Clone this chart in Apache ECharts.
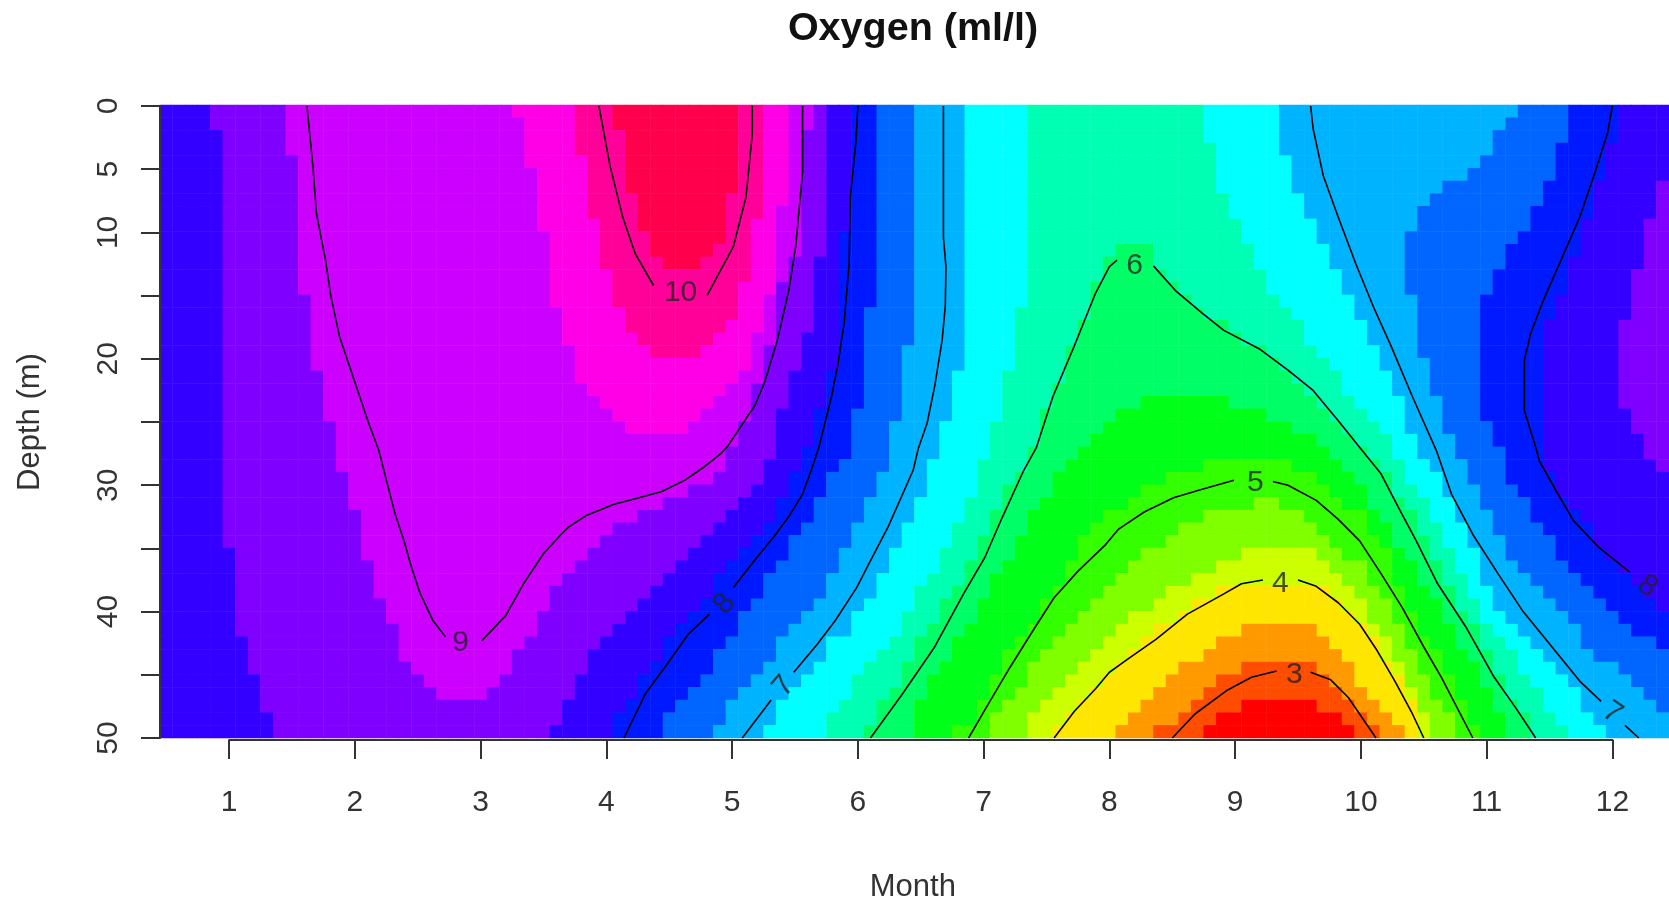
<!DOCTYPE html>
<html>
<head>
<meta charset="utf-8">
<script src="https://cdn.jsdelivr.net/npm/echarts@6/dist/echarts.min.js"></script>
<style>
html,body{margin:0;padding:0;background:#fff;overflow:hidden}
#chart{width:1669px;height:899px;filter:blur(0.55px)}
</style>
</head>
<body>
<div id="chart"></div>
<script>
// ---------- axes ----------
const monthTicks = [1,2,3,4,5,6,7,8,9,10,11,12];
const depthLabelled = [0,5,10,20,30,40,50];
const rowDepths = Array.from({length:50},(_,i)=>i);      // 1 m rows
const colMonths = Array.from({length:120},(_,i)=>(5+i)/10); // 0.1 month columns

// ---------- oxygen classes (ml/l) and rainbow colours ----------
const oxygenBreaks = [2.38,2.79,3.20,3.62,4.03,4.44,4.85,5.26,5.68,6.09,6.50,6.91,7.32,7.74,8.15,8.56,8.97,9.38,9.80,10.21,10.62];
const classColors = ['#FF0000','#FF4D00','#FF9900','#FFE600','#CCFF00','#80FF00','#33FF00','#00FF19','#00FF66','#00FFB3','#00FFFF','#00B3FF','#0066FF','#0019FF','#3300FF','#8000FF','#CC00FF','#FF00E6','#FF0099','#FF004D'];

// ---------- class boundaries: [from depth, month, ...]; null = class absent ----------
const startClass = 14;
const e01=[0,.85,2,.95,35,1.05,42,1.15,45,1.25,48,1.35];
const e02=[0,1.45,4,1.55,15,1.65,21,1.75,25,1.85,29,1.95,32,2.05,36,2.15,39,2.25,41,2.35,44,2.45,45,2.55,46,2.65,47,null];
const e03=[0,3.25,1,3.35,5,3.45,10,3.55,16,3.65,19,3.75,22,3.85,23,3.95,24,4.05,25,4.15,26,null];
const e04=[0,3.75,4,3.85,9,3.95,13,4.05,16,4.15,18,4.25,19,4.35,20,null];
const e05=[0,4.05,2,4.15,7,4.25,10,4.35,12,4.45,13,null];
const e06=[0,5.05,7,4.95,11,4.85,12,4.75,13,null];
const e07=[0,5.25,9,5.15,14,5.05,17,4.95,18,4.85,19,4.75,20,null];
const e08=[0,5.45,8,5.35,15,5.25,18,5.15,21,5.05,22,4.95,23,4.85,24,4.75,25,4.65,26,null];
const e09=[0,5.65,2,5.55,12,5.45,14,5.35,19,5.25,22,5.15,25,5.05,27,4.95,29,4.85,30,4.65,31,4.45,32,4.25,33,4.05,34,3.95,35,3.85,36,3.75,37,3.65,38,3.55,40,3.45,42,3.35,43,3.25,45,3.15,46,3.05,47,null];
const e10=[0,5.75,12,5.65,18,5.55,21,5.45,24,5.35,28,5.25,30,5.15,31,5.05,32,4.95,33,4.85,34,4.75,35,4.65,36,4.55,37,4.45,38,4.35,39,4.25,40,4.15,41,4.05,42,3.95,43,3.85,45,3.75,47,3.65,49,3.55];
const e11=[0,5.95,10,5.85,21,5.75,24,5.65,27,5.55,29,5.45,31,5.35,33,5.25,34,5.15,35,5.05,36,4.95,37,4.85,39,4.75,40,4.65,41,4.55,42,4.45,44,4.35,45,4.25,47,4.15,48,4.05];
const e12=[0,6.15,16,6.05,24,5.95,28,5.85,29,5.75,31,5.65,33,5.55,34,5.45,36,5.35,37,5.25,39,5.15,40,5.05,42,4.95,43,4.85,45,4.75,46,4.65,47,4.55,48,4.45];
const e13=[0,6.45,19,6.35,25,6.25,29,6.15,31,6.05,33,5.95,35,5.85,37,5.75,39,5.65,40,5.55,41,5.45,42,5.35,44,5.25,45,5.15,46,5.05,47,4.95,49,4.85];
const e14=[0,6.85,21,6.75,25,6.65,28,6.55,31,6.45,33,6.35,35,6.25,37,6.15,39,6.05,40,5.95,42,5.75,44,5.65,45,5.55,46,5.45,47,5.35,49,5.25];
const e15=[0,7.35,16,7.25,21,7.15,25,7.05,28,6.95,31,6.85,33,6.75,35,6.65,37,6.55,38,6.45,40,6.35,42,6.25,43,6.15,44,6.05,45,5.95,47,5.85,48,5.75];
const e16=[0,null,11,8.05,12,7.95,14,7.85,17,7.75,19,7.65,22,7.55,24,7.45,27,7.35,29,7.25,30,7.15,32,7.05,34,6.95,36,6.85,38,6.75,39,6.65,41,6.55,42,6.45,44,6.35,46,6.25,47,6.15,49,6.05];
const e17=[0,null,23,8.25,24,8.05,25,7.95,26,7.85,27,7.75,28,7.65,29,7.55,31,7.45,32,7.35,34,7.25,36,7.15,37,7.05,39,6.95,41,6.85,42,6.75,44,6.65,45,6.55,47,6.45];
const e18=[0,null,28,8.75,29,8.45,30,8.25,31,8.15,32,7.95,33,7.85,34,7.75,36,7.65,38,7.55,39,7.45,41,7.35,42,7.25,43,7.15,45,7.05,47,6.95,49,6.75];
const e19=[0,null,31,9.15,32,8.75,33,8.55,34,8.45,35,8.25,36,8.15,37,8.05,38,7.95,39,7.85,40,7.75,41,7.65,42,7.55,43,7.45,44,7.35,46,7.25,47,7.15,48,7.05];
const e20=[0,null,35,9.05,36,8.85,37,8.65,38,8.45,39,8.35,40,8.15,41,8.05,42,7.95,43,7.85,44,7.75,45,7.65,46,7.55,47,7.45,48,7.35];
const e21=[0,null,38,8.85,39,8.65,40,8.55,41,8.35,42,8.25,43,8.15,44,8.05,45,7.95,46,7.85,47,7.75,48,7.65,49,7.55];
const e22=[0,null,41,9.05,42,8.85,43,8.75,44,8.55,45,8.45,46,8.35,47,8.25,48,8.15,49,8.05];
const e23=[0,null,44,9.05,45,8.85,46,8.75,47,8.65,48,8.55,49,8.35];
const e24=[0,null,47,9.05,48,8.85,49,8.75];
const e25=[0,null,47,9.65,48,9.85,49,9.95];
const e26=[0,null,44,9.65,45,9.75,46,9.85,47,9.95,48,10.05,49,10.15];
const e27=[0,null,41,9.65,42,9.75,43,9.85,44,9.95,46,10.05,47,10.15,48,10.25,49,10.35];
const e28=[0,null,38,9.75,39,9.85,40,9.95,41,10.05,42,10.15,44,10.25,45,10.35,47,10.45];
const e29=[0,null,35,9.65,36,9.75,37,9.85,38,9.95,39,10.05,41,10.15,42,10.25,44,10.35,46,10.45,48,10.55];
const e30=[0,null,31,9.35,32,9.55,33,9.65,34,9.75,35,9.85,36,10.05,38,10.15,39,10.25,41,10.35,43,10.45,45,10.55,47,10.65,48,10.75];
const e31=[0,null,28,9.45,29,9.65,30,9.75,31,9.85,32,10.05,34,10.15,35,10.25,38,10.35,40,10.45,42,10.55,43,10.65,45,10.75,47,10.85,49,10.95];
const e32=[0,null,23,8.95,24,9.25,25,9.45,26,9.65,27,9.75,28,9.85,29,9.95,30,10.05,32,10.15,33,10.25,35,10.35,36,10.45,38,10.55,39,10.65,41,10.75,43,10.85,44,10.95,46,11.05,48,11.15];
const e33=[0,null,11,8.35,13,8.45,14,8.55,15,8.65,16,8.75,17,8.95,18,9.05,19,9.25,20,9.35,21,9.45,22,9.55,23,9.65,24,9.75,25,9.85,26,9.95,27,10.05,28,10.15,29,10.25,31,10.35,32,10.45,34,10.55,36,10.65,38,10.75,40,10.85,41,10.95,43,11.05,45,11.15,47,11.25,48,11.35];
const e34=[0,8.75,3,8.85,7,8.95,9,9.05,11,9.15,13,9.25,15,9.35,16,9.45,17,9.55,19,9.65,20,9.75,21,9.85,23,9.95,24,10.05,25,10.15,26,10.25,28,10.35,30,10.45,31,10.55,33,10.65,35,10.75,37,10.85,39,10.95,41,11.05,42,11.15,43,11.25,45,11.35,46,11.45,48,11.55,49,11.65];
const e35=[0,9.35,4,9.45,7,9.55,9,9.65,11,9.75,13,9.85,15,9.95,17,10.05,19,10.15,21,10.25,23,10.35,26,10.45,28,10.55,29,10.65,31,10.75,33,10.85,35,10.95,38,11.05,40,11.15,41,11.25,42,11.35,43,11.45,44,11.55,45,11.65,46,11.75,48,11.85,49,11.95];
const e36=[0,11.25,1,11.15,2,11.05,4,10.95,5,10.85,6,10.65,7,10.55,8,10.45,10,10.35,15,10.45,20,10.55,23,10.65,26,10.75,28,10.85,30,10.95,32,11.05,34,11.15,36,11.25,37,11.35,38,11.45,39,11.55,40,11.65,41,11.75,43,11.85,44,12.05,45,12.15,46,12.25,47,12.35,48,null];
const e37=[0,11.65,3,11.55,6,11.45,8,11.35,10,11.25,11,11.15,13,11.05,15,10.95,25,11.05,27,11.15,30,11.25,31,11.35,33,11.45,34,11.55,36,11.65,37,11.75,38,11.85,39,11.95,40,12.05,41,12.15,42,12.35,43,null];
const e38=[0,12.05,3,11.95,6,11.85,9,11.75,12,11.65,15,11.55,17,11.45,29,11.55,31,11.65,32,11.75,33,11.85,35,11.95,36,12.05,37,12.15,38,12.25,39,12.35,40,null];
const e39=[0,null,6,12.35,9,12.25,13,12.15,17,12.05,24,12.15,26,12.25,28,12.35,29,null];
// class entered when each boundary is crossed going right
const boundaries=[[15,e01],[16,e02],[17,e03],[18,e04],[19,e05],[18,e06],[17,e07],[16,e08],[15,e09],[14,e10],[13,e11],[12,e12],[11,e13],[10,e14],[9,e15],[8,e16],[7,e17],[6,e18],[5,e19],[4,e20],[3,e21],[2,e22],[1,e23],[0,e24],[1,e25],[2,e26],[3,e27],[4,e28],[5,e29],[6,e30],[7,e31],[8,e32],[9,e33],[10,e34],[11,e35],[12,e36],[13,e37],[14,e38],[15,e39]];

// ---------- contour lines: [month, depth] ----------
const c9a=[[1.62,0],[1.624,.58],[1.666,4.8],[1.694,8.5],[1.766,12.2],[1.808,15],[1.879,18.3],[1.978,21.2],[2.106,25],[2.19,27.26],[2.25,29.6],[2.32,32.3],[2.39,34.4],[2.45,36.5],[2.52,38.6],[2.62,40.7],[2.72,42]];
const c9b=[[3.01,42.3],[3.2,40.3],[3.34,37.8],[3.5,35.4],[3.63,34],[3.70,33.3],[3.84,32.4],[4.06,31.5],[4.26,31],[4.44,30.5],[4.625,29.6],[4.77,28.6],[4.91,27.5],[4.965,26.9],[5.18,23.7],[5.26,21.8],[5.36,18.5],[5.45,14.6],[5.505,11.1],[5.56,5.2],[5.56,0]];
const c10a=[[3.94,0],[4.03,4.8],[4.13,8.8],[4.23,11.7],[4.375,14.2]];
const c10b=[[4.80,15],[5.01,11.1],[5.11,7.2],[5.16,2.2],[5.16,0]];
const c8a=[[6.0,0],[5.985,2.7],[5.94,7.2],[5.93,12.5],[5.89,17.2],[5.84,20.5],[5.79,23],[5.69,27],[5.63,28.8],[5.56,30.7],[5.45,32.5],[5.33,34.1],[5.19,35.8],[5.01,38.1]];
const c8b=[[4.82,40.2],[4.65,41.8],[4.48,44.2],[4.31,46.5],[4.14,50]];
const c7a=[[6.68,0],[6.68,10.4],[6.70,12.7],[6.695,15.8],[6.67,18.5],[6.61,22.2],[6.55,25.1],[6.48,27.1],[6.44,28.8],[6.356,30.7],[6.24,33.3],[6.13,35.4],[5.99,38.1],[5.82,40.7],[5.675,42.6],[5.49,44.8]];
const c7b=[[5.31,47],[5.08,50]];
const c6a=[[6.10,50],[6.355,46.5],[6.61,42.8],[6.84,38.6],[7.01,35.7],[7.15,32.5],[7.32,28.8],[7.42,27],[7.55,23],[7.72,19],[7.89,14.8],[8.0,12.7],[8.06,12.2]];
const c6b=[[8.35,12.65],[8.525,14.6],[8.74,16.4],[8.91,17.75],[9.19,19.2],[9.42,20.9],[9.62,22.5],[9.82,24.9],[10.01,27.26],[10.16,29.1],[10.30,31.8],[10.44,34.4],[10.61,37.8],[10.84,41.3],[11.06,45.2],[11.23,47.6],[11.39,50]];
const c5a=[[6.88,50],[7.02,47.6],[7.21,44.4],[7.405,41.3],[7.56,38.9],[7.75,36.8],[7.97,34.7],[8.07,33.5],[8.28,32.1],[8.51,31],[8.71,30.4],[8.99,29.6]];
const c5b=[[9.30,29.7],[9.42,30],[9.645,31.2],[9.82,32.7],[9.99,34.4],[10.16,37],[10.33,39.7],[10.5,42.8],[10.64,45.2],[10.78,47.9],[10.89,50]];
const c4a=[[7.56,50],[7.72,47.9],[7.89,46.1],[8.0,44.8],[8.14,43.8],[8.37,42.2],[8.62,40.2],[8.91,38.6],[9.05,37.8],[9.22,37.5]];
const c4b=[[9.50,37.5],[9.645,38],[9.82,39.3],[9.99,41],[10.13,43.1],[10.27,45.5],[10.41,48.1],[10.5,50]];
const c3a=[[8.5,50],[8.68,48.1],[8.94,46.2],[9.13,45.2],[9.33,44.7]];
const c3b=[[9.60,44.8],[9.76,45.4],[9.9,46.8],[10.01,48.4],[10.12,50]];
const c7c=[[9.60,0],[9.62,1.8],[9.70,5.5],[9.82,8.8],[9.96,12.5],[10.1,15.9],[10.24,19],[10.41,23],[10.6,27.26],[10.72,30.7],[10.89,33.9],[11.09,37],[11.29,40],[11.52,42.8],[11.74,45.5],[11.91,47.1]];
const c7d=[[12.10,49],[12.21,50]];
const c8c=[[12.0,0],[11.96,2.2],[11.86,5.3],[11.74,8.8],[11.6,12],[11.45,15.4],[11.35,18],[11.3,20.1],[11.3,24.1],[11.39,27],[11.42,28.1],[11.55,30.4],[11.69,32.8],[11.89,34.9],[12.14,36.9]];
const contourPieces=[c9a,c9b,c10a,c10b,c8a,c8b,c7a,c7b,c6a,c6b,c5a,c5b,c4a,c4b,c3a,c3b,c7c,c7d,c8c];

// contour labels: month, depth, level
const contourLevels=[[2.84,42.5,'9'],[4.59,14.8,'10'],[4.94,39.4,'8'],[5.41,45.9,'7'],[8.2,12.6,'6'],[9.16,29.8,'5'],[9.36,37.8,'4'],[9.47,45,'3'],[12.0,48,'7'],[12.28,38,'8']];
const levelAngles=[0,0,50,50,0,0,0,0,-35,-35];

// ---------- build the cell table ----------
function edgeAt(steps,d){let m=null;for(let i=0;i<steps.length;i+=2){if(steps[i]<=d)m=steps[i+1];}return m;}
const cells=[];
rowDepths.forEach((d,r)=>{
  const cross=[];
  boundaries.forEach(([cls,steps],order)=>{const m=edgeAt(steps,d);if(m!==null)cross.push({m,cls,order});});
  cross.sort((a,b)=>a.m-b.m||a.order-b.order);
  colMonths.forEach((mon,c)=>{
    let cls=startClass;
    for(const k of cross){if(mon>k.m)cls=k.cls;else break;}
    cells.push([c,r,(oxygenBreaks[cls]+oxygenBreaks[cls+1])/2]);
  });
});

const FONT='"Liberation Sans",Arial,sans-serif';
const INK='#333';
const gridLeft=160,gridTop=106,gridW=1509,gridH=632;
const pxPerMonth=gridW/12;
const chart=echarts.init(document.getElementById('chart'),null,{renderer:'canvas'});
const lineSeries=contourPieces.map(p=>({type:'line',xAxisIndex:1,yAxisIndex:1,data:p,showSymbol:false,symbol:'none',silent:true,animation:false,z:5,
  lineStyle:{color:'#000',width:1.6}}));
chart.setOption({
  animation:false,
  backgroundColor:'#fff',
  title:{text:'Oxygen (ml/l)',left:908,top:4,textAlign:'center',textStyle:{fontFamily:FONT,fontWeight:'bold',fontSize:39.5,color:'#111'}},
  grid:[
    {left:gridLeft,top:gridTop-1,width:gridW,height:gridH+1,outerBoundsMode:'none'},
    {left:gridLeft,top:gridTop,width:gridW,height:gridH,outerBoundsMode:'none'},
    {left:gridLeft+0.55*pxPerMonth,top:gridTop,width:11*pxPerMonth,height:gridH+2,outerBoundsMode:'none'}
  ],
  xAxis:[
    {type:'category',gridIndex:0,data:colMonths,show:false},
    {type:'value',gridIndex:1,min:0.45,max:12.45,show:false},
    {type:'value',gridIndex:2,min:1,max:12,interval:1,z:10,position:'bottom',
     axisLine:{show:true,onZero:false,lineStyle:{color:INK,width:2}},
     axisTick:{show:true,length:19,lineStyle:{color:INK,width:2}},
     axisLabel:{margin:48,fontFamily:FONT,fontSize:30,color:INK,formatter:v=>monthTicks.includes(v)?String(v):''},
     splitLine:{show:false},
     name:'Month',nameLocation:'middle',nameGap:132,nameTextStyle:{fontFamily:FONT,fontSize:31,color:INK,padding:[0,16,0,0]}}
  ],
  yAxis:[
    {type:'category',gridIndex:0,data:rowDepths,inverse:true,show:false},
    {type:'value',gridIndex:1,min:0,max:50,interval:5,inverse:true,z:10,
     axisLine:{show:true,onZero:false,lineStyle:{color:INK,width:2}},
     axisTick:{show:true,length:19,lineStyle:{color:INK,width:2}},
     axisLabel:{rotate:90,margin:36,fontFamily:FONT,fontSize:30,color:INK,showMinLabel:true,showMaxLabel:true,hideOverlap:false,
       formatter:v=>depthLabelled.includes(v)?String(v):''},
     splitLine:{show:false},
     name:'Depth (m)',nameLocation:'middle',nameGap:114,nameRotate:90,nameTextStyle:{fontFamily:FONT,fontSize:31,color:INK}},
    {type:'value',gridIndex:2,min:0,max:1,show:false}
  ],
  visualMap:{show:false,type:'piecewise',seriesIndex:0,dimension:2,
    pieces:classColors.map((color,i)=>({gte:oxygenBreaks[i],lt:oxygenBreaks[i+1],color}))},
  series:[
    {type:'heatmap',xAxisIndex:0,yAxisIndex:0,data:cells,progressive:0,silent:true,z:1,emphasis:{disabled:true},itemStyle:{borderWidth:0}},
    ...lineSeries,
    {type:'scatter',xAxisIndex:1,yAxisIndex:1,symbolSize:0,silent:true,z:6,
     data:contourLevels.map((l,i)=>({value:[l[0],l[1]],label:{show:true,position:'inside',formatter:l[2],rotate:levelAngles[i],fontFamily:FONT,fontSize:30,color:'#222'}}))}
  ]
});
</script>
</body>
</html>
